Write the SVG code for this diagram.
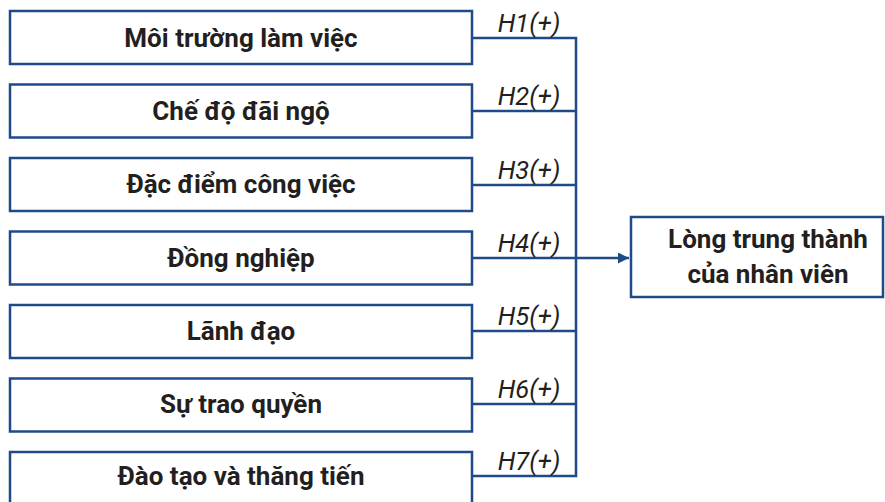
<svg xmlns="http://www.w3.org/2000/svg" width="885" height="502" viewBox="0 0 885 502">
<style>
.box{fill:#fff;stroke:#1f4a8a;stroke-width:2.5}
.t{font-family:Roboto,"Noto Sans",sans-serif;font-weight:bold;font-size:26px;fill:#231f20;text-anchor:middle}
.h{font-family:Roboto,"Noto Sans",sans-serif;font-style:italic;font-size:25.5px;fill:#231f20;text-anchor:middle}
.c{fill:none;stroke:#1f4a8a;stroke-width:2.5}
</style>
<defs>
<marker id="arr" markerWidth="11" markerHeight="11" refX="11" refY="5.5" orient="auto" markerUnits="userSpaceOnUse" viewBox="0 0 11 11">
<path d="M0,0 L11,5.5 L0,11 z" fill="#1f4a8a"/>
</marker>
</defs>
<rect width="885" height="502" fill="#fff"/>
<g id="connectors">
<path class="c" d="M472,38 H576 V476 H472"/>
<path class="c" d="M472,111 H576"/>
<path class="c" d="M472,185 H576"/>
<path class="c" d="M472,331 H576"/>
<path class="c" d="M472,404 H576"/>
<path class="c" d="M472,258 H629" marker-end="url(#arr)"/>
<text class="h" x="529" y="32">H1(+)</text>
<text class="h" x="529" y="105">H2(+)</text>
<text class="h" x="529" y="179">H3(+)</text>
<text class="h" x="529" y="252">H4(+)</text>
<text class="h" x="529" y="325">H5(+)</text>
<text class="h" x="529" y="398">H6(+)</text>
<text class="h" x="529" y="470">H7(+)</text>
</g>
<g id="n1"><rect class="box" x="10" y="11" width="462" height="53"/><text class="t" x="241" y="46.5">Môi trường làm việc</text></g>
<g id="n2"><rect class="box" x="10" y="84.5" width="462" height="53"/><text class="t" x="241" y="119.5">Chế độ đãi ngộ</text></g>
<g id="n3"><rect class="box" x="10" y="158" width="462" height="53"/><text class="t" x="241" y="193">Đặc điểm công việc</text></g>
<g id="n4"><rect class="box" x="10" y="231.5" width="462" height="53"/><text class="t" x="241" y="266.5">Đồng nghiệp</text></g>
<g id="n5"><rect class="box" x="10" y="305" width="462" height="53"/><text class="t" x="241" y="339.5">Lãnh đạo</text></g>
<g id="n6"><rect class="box" x="10" y="378.5" width="462" height="53"/><text class="t" x="241" y="412.5">Sự trao quyền</text></g>
<g id="n7"><rect class="box" x="10" y="452" width="462" height="53"/><text class="t" x="241" y="485">Đào tạo và thăng tiến</text></g>
<g id="n8"><rect class="box" x="631" y="217" width="252" height="80"/><text class="t" x="768" y="248">Lòng trung thành</text><text class="t" x="768" y="283">của nhân viên</text></g>
</svg>
